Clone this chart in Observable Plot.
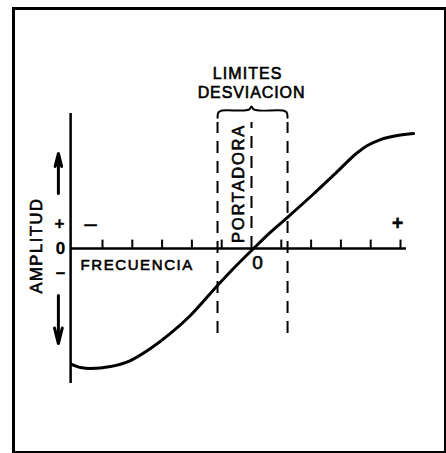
<!DOCTYPE html>
<html>
<head>
<meta charset="utf-8">
<script src="https://cdn.jsdelivr.net/npm/d3@7"></script>
<script src="https://cdn.jsdelivr.net/npm/@observablehq/plot@0.6"></script>
<style>
  html, body { margin: 0; padding: 0; background: #fff; }
  svg { display: block; }
</style>
</head>
<body>
<script>
// ---- data (frequency units on x, amplitude units on y) ----
const curveX = [-6.04, -5.74, -5.40, -4.73, -4.06, -3.39, -2.72, -2.05, -1.14, -0.54, 0.07, 0.64, 1.21, 2.08, 2.82, 3.56, 3.89, 4.33, 4.90, 5.44];
const curveY = [-4.83, -4.96, -5.00, -4.92, -4.67, -4.17, -3.54, -2.79, -1.54, -0.75, 0.00, 0.68, 1.30, 2.27, 3.13, 4.00, 4.29, 4.54, 4.71, 4.79];
const xTicks = [-5, -4, -3, -2, -1, 1, 2, 3, 4, 5];
const deviationLimits = [-1.14, 1.21];
const carrier = [0];
const xAxisExtent = [-6.07, 5.2];
const yAxisExtent = [-5.63, 5.63];

const curve = curveX.map((x, i) => ({x, y: curveY[i]}));

// brace built from the deviation limits
function brace(L, R, c, yEnd, yFlat, yPeak) {
  return [
    [L, yEnd], [L + 0.03, yFlat - 0.08], [L + 0.15, yFlat],
    [c - 0.25, yFlat], [c - 0.06, yFlat + 0.06], [c, yPeak],
    [c + 0.06, yFlat + 0.06], [c + 0.25, yFlat],
    [R - 0.15, yFlat], [R - 0.03, yFlat - 0.08], [R, yEnd]
  ].map(([x, y]) => ({x, y}));
}
const braceLine = brace(deviationLimits[0], deviationLimits[1], carrier[0], 5.45, 5.75, 5.92);

const F = "Liberation Sans, Arial, Helvetica, sans-serif";
const T = {textAnchor: "middle", lineAnchor: "middle", fill: "black", stroke: "black", strokeWidth: 0.6};

const svg = Plot.plot({
  width: 446,
  height: 453,
  marginLeft: 13, marginTop: 8, marginRight: 1, marginBottom: 1,
  style: {background: "white", color: "black", fontFamily: F},
  x: {type: "linear", domain: [-5, 5], range: [102, 400], axis: null},
  y: {type: "linear", domain: [-1, 1], range: [272, 224], axis: null},
  marks: [
    Plot.frame({stroke: "black", strokeWidth: 3}),
    // axes
    Plot.ruleY([0], {x1: xAxisExtent[0], x2: xAxisExtent[1], stroke: "black", strokeWidth: 2.5}),
    Plot.ruleX([xAxisExtent[0]], {y1: yAxisExtent[0], y2: yAxisExtent[1], stroke: "black", strokeWidth: 2.5}),
    Plot.ruleX(xTicks, {y1: 0, y2: 0.35, stroke: "black", strokeWidth: 2}),
    // deviation limits and carrier
    Plot.ruleX(deviationLimits, {y1: -3.54, y2: 5.25, stroke: "black", strokeWidth: 2, strokeDasharray: "12,8"}),
    Plot.ruleX(carrier, {y1: 0, y2: 5.25, stroke: "black", strokeWidth: 2, strokeDasharray: "12,8"}),
    Plot.line(braceLine, {x: "x", y: "y", curve: "catmull-rom", stroke: "black", strokeWidth: 2}),
    // response curve
    Plot.line(curve, {x: "x", y: "y", curve: "monotone-x", stroke: "black", strokeWidth: 3}),
    // amplitude arrows
    Plot.arrow([{x1: -6.48, y1: 2.29, x2: -6.48, y2: 3.96}], {x1: "x1", y1: "y1", x2: "x2", y2: "y2", stroke: "black", strokeWidth: 3, headLength: 12, headAngle: 28}),
    Plot.arrow([{x1: -6.48, y1: -1.96, x2: -6.48, y2: -3.96}], {x1: "x1", y1: "y1", x2: "x2", y2: "y2", stroke: "black", strokeWidth: 3, headLength: 12, headAngle: 28}),
    // texts
    Plot.text(["LIMITES"], {...T, x: -0.13, y: 7.27, fontSize: 16}),
    Plot.text(["DESVIACION"], {...T, x: 0, y: 6.5, fontSize: 16}),
    Plot.text(["PORTADORA"], {...T, x: -0.44, y: 2.71, fontSize: 16.5, rotate: -90}),
    Plot.text(["AMPLITUD"], {...T, x: -7.21, y: 0.125, fontSize: 16.5, rotate: -90}),
    Plot.text(["FRECUENCIA"], {...T, x: -5.74, y: -0.71, fontSize: 15, textAnchor: "start"}),
    Plot.text(["0"], {...T, x: 0.2, y: -0.62, fontSize: 19}),
    Plot.text(["0"], {...T, x: -6.41, y: 0, fontSize: 17, fontWeight: "bold", strokeWidth: 0.3}),
    Plot.text(["+"], {...T, x: -6.44, y: 1.04, fontSize: 17, fontWeight: "bold", strokeWidth: 0.3}),
    Plot.text(["–"], {...T, x: -6.41, y: -1.0, fontSize: 17, fontWeight: "bold", strokeWidth: 0.3}),
    Plot.text(["+"], {...T, x: 4.9, y: 1.04, fontSize: 20, fontWeight: "bold", strokeWidth: 0.3}),
    Plot.text(["–"], {...T, x: -5.4, y: 1.04, fontSize: 22})
  ]
});

const spacing = {"LIMITES": 1.1, "DESVIACION": 0.9, "PORTADORA": 1.8, "AMPLITUD": 1.6, "FRECUENCIA": 1.6};
d3.select(svg).selectAll("text").each(function () {
  const t = this.textContent;
  if (spacing[t] !== undefined) this.setAttribute("letter-spacing", spacing[t]);
});

document.body.appendChild(svg);
</script>
</body>
</html>
